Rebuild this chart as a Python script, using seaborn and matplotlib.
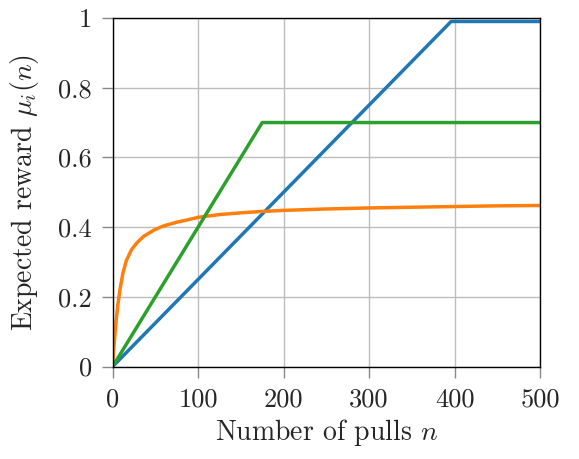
import matplotlib
matplotlib.use("Agg")
import matplotlib.pyplot as plt
import pandas as pd
import seaborn as sns

# arm 1: linear growth, then saturates
blue_n = [0, 396, 500]
blue_mu = [0.0, 0.99, 0.99]

# arm 2: fast rise, slow saturation
orange_n = [0, 1, 2, 4, 6, 8.5, 12, 16, 22, 28, 36, 48, 59, 75, 88,
            100, 125, 150, 175, 200, 250, 300, 350, 400, 450, 500]
orange_mu = [0.0, 0.04, 0.074, 0.13, 0.176, 0.22, 0.268, 0.304, 0.335, 0.354, 0.373,
             0.391, 0.403, 0.414, 0.421, 0.428, 0.436, 0.441, 0.445, 0.448, 0.452,
             0.455, 0.457, 0.459, 0.461, 0.462]

# arm 3: linear growth, then saturates
green_n = [0, 175, 500]
green_mu = [0.0, 0.70, 0.70]

arm_names = ["arm 1", "arm 2", "arm 3"]
arm_colors = ["#1f77b4", "#ff7f0e", "#2ca02c"]

x_ticks = [0, 100, 200, 300, 400, 500]
x_ticklabels = ["0", "100", "200", "300", "400", "500"]
y_ticks = [0, 0.2, 0.4, 0.6, 0.8, 1.0]
y_ticklabels = ["0", "0.2", "0.4", "0.6", "0.8", "1"]

frames = []
for name, n, mu in zip(arm_names, [blue_n, orange_n, green_n], [blue_mu, orange_mu, green_mu]):
    frames.append(pd.DataFrame({"n": n, "mu": mu, "arm": name}))
df = pd.concat(frames, ignore_index=True)

sns.set_theme(style="ticks")
plt.rcParams["font.family"] = ["cmr10", "DejaVu Serif"]
plt.rcParams["mathtext.fontset"] = "cm"
plt.rcParams["axes.formatter.use_mathtext"] = True
plt.rcParams["axes.unicode_minus"] = False

fig = plt.figure(figsize=(5.79, 4.59), dpi=100)
ax = fig.add_axes([0.1946, 0.2015, 0.738, 0.7593])

sns.lineplot(data=df, x="n", y="mu", hue="arm", palette=arm_colors,
             estimator=None, sort=False, linewidth=2.5, legend=False, ax=ax)

ax.set_xlim(0, 500)
ax.set_ylim(0, 1)
ax.set_xticks(x_ticks)
ax.set_xticklabels(x_ticklabels)
ax.set_yticks(y_ticks)
ax.set_yticklabels(y_ticklabels)
ax.grid(True, color="#bdbdbd", linewidth=1.0)
ax.set_axisbelow(True)
for side in ["left", "right", "top", "bottom"]:
    ax.spines[side].set_visible(True)
    ax.spines[side].set_color("black")
    ax.spines[side].set_linewidth(1.0)
ax.tick_params(axis="both", which="major", labelsize=19, length=8, width=1.0,
               color="#888888", pad=7, direction="out")

ax.set_xlabel("Number of pulls $n$", fontsize=20, labelpad=4)
ax.set_ylabel(r"Expected reward $\mu_i(n)$", fontsize=20, labelpad=12)

fig.savefig("out.png", dpi=100)
